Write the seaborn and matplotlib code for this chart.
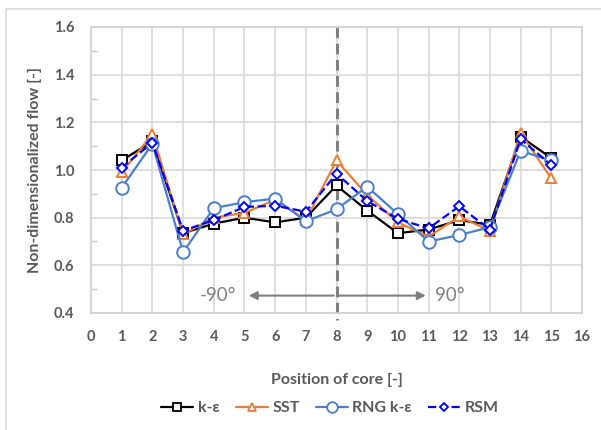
import numpy as np
import pandas as pd
import matplotlib
matplotlib.use("Agg")
import matplotlib.pyplot as plt
from matplotlib.lines import Line2D
from matplotlib.ticker import MultipleLocator
import seaborn as sns

positions = [1, 2, 3, 4, 5, 6, 7, 8, 9, 10, 11, 12, 13, 14, 15]
k_eps = [1.04, 1.12, 0.735, 0.775, 0.80, 0.78, 0.80, 0.935, 0.83, 0.735, 0.75, 0.79, 0.77, 1.14, 1.05]
sst = [0.99, 1.15, 0.73, 0.80, 0.82, 0.875, 0.79, 1.04, 0.895, 0.78, 0.72, 0.805, 0.745, 1.155, 0.965]
rng_k_eps = [0.925, 1.11, 0.655, 0.84, 0.865, 0.88, 0.785, 0.835, 0.93, 0.815, 0.70, 0.727, 0.76, 1.08, 1.04]
rsm = [1.01, 1.115, 0.745, 0.79, 0.845, 0.85, 0.825, 0.985, 0.87, 0.795, 0.755, 0.848, 0.75, 1.13, 1.02]

series_names = ["k-ε", "SST", "RNG k-ε", "RSM"]
x_ticks = list(range(0, 17))
y_ticks = [0.4, 0.6, 0.8, 1.0, 1.2, 1.4, 1.6]

sns.set_theme(style="white")
plt.rcParams['font.family'] = ['Lato', 'DejaVu Sans']

gray_txt = "#595959"
fig = plt.figure(figsize=(6.01, 4.30), dpi=100)
ax = fig.add_axes([91/601, 1-313/430, (582-91)/601, (313-27)/430])

styles = [
    dict(color="black", marker="s", ms=6.5, ls="-"),
    dict(color="#ED7D31", marker="^", ms=7.5, ls="-"),
    dict(color="#4A7FCF", marker="o", ms=9, ls="-"),
    dict(color="#0000FF", marker="D", ms=5, ls="--"),
]
data = [k_eps, sst, rng_k_eps, rsm]
for name, vals, st in zip(series_names, data, styles):
    df = pd.DataFrame({"pos": positions, "val": vals})
    sns.lineplot(data=df, x="pos", y="val", ax=ax, color=st["color"], linewidth=1.6,
                 linestyle=st["ls"], marker=st["marker"], markersize=st["ms"],
                 markerfacecolor="white", markeredgecolor=st["color"], markeredgewidth=1.4,
                 label=name, legend=False, zorder=3)

ax.set_xlim(0, 16)
ax.set_ylim(0.4, 1.6)
ax.set_xticks(x_ticks)
ax.set_xticklabels([str(t) for t in x_ticks])
ax.set_yticks(y_ticks)
ax.set_yticklabels([f"{t:.1f}" for t in y_ticks])
ax.yaxis.set_minor_locator(MultipleLocator(0.1))
ax.grid(True, which="major", color="#d9d9d9", linewidth=1.2)
ax.set_axisbelow(True)
for s in ax.spines.values():
    s.set_color("#d0d0d0")
    s.set_linewidth(1.2)
ax.tick_params(axis="both", which="major", length=0, pad=12, labelsize=10.5, labelcolor=gray_txt)
ax.tick_params(axis="y", which="minor", direction="in", length=4, width=1, color="#c8c8c8", left=True)
for lab in ax.get_xticklabels() + ax.get_yticklabels():
    lab.set_fontweight("bold")

ax.set_xlabel("Position of core [-]", fontsize=11.5, fontweight="bold", color=gray_txt)
ax.set_ylabel("Non-dimensionalized flow [-]", fontsize=11.5, fontweight="bold", color=gray_txt)
ax.xaxis.set_label_coords(0.5, -0.21)
ax.yaxis.set_label_coords(-0.10, 0.5)

# vertical dashed line at position 8
ax.plot([8, 8], [1.6, 0.37], color="#7f7f7f", linewidth=2.2, linestyle=(0, (3.5, 1.8)),
        clip_on=False, zorder=2)

# double arrow
ax.annotate("", xy=(5.05, 0.473), xytext=(8, 0.473),
            arrowprops=dict(arrowstyle="-|>", color="#7f7f7f", lw=1.5, mutation_scale=12))
ax.annotate("", xy=(11.0, 0.473), xytext=(8, 0.473),
            arrowprops=dict(arrowstyle="-|>", color="#7f7f7f", lw=1.5, mutation_scale=12))
ax.text(4.75, 0.473, "-90°", ha="right", va="center", fontsize=13.5, color="#7f7f7f")
ax.text(11.2, 0.473, "90°", ha="left", va="center", fontsize=13.5, color="#7f7f7f")

handles = [Line2D([0], [0], color=st["color"], linestyle=st["ls"], linewidth=1.6,
                  marker=st["marker"], markersize=st["ms"] * 0.85, markerfacecolor="white",
                  markeredgecolor=st["color"], markeredgewidth=1.3) for st in styles]
leg = fig.legend(handles, series_names, loc="center", bbox_to_anchor=(0.549, 1-408/430), ncol=4,
                 frameon=False, fontsize=11.5, handlelength=2.0, columnspacing=1.0, handletextpad=0.3)
for t in leg.get_texts():
    t.set_color(gray_txt)
    t.set_fontweight("bold")

# outer chart border (left and top)
fig.add_artist(Line2D([6/601, 6/601], [0, 1-9/430], transform=fig.transFigure, color="#d9d9d9", lw=1.2))
fig.add_artist(Line2D([6/601, 1], [1-9/430, 1-9/430], transform=fig.transFigure, color="#d9d9d9", lw=1.2))

fig.savefig("out.png", dpi=100)
